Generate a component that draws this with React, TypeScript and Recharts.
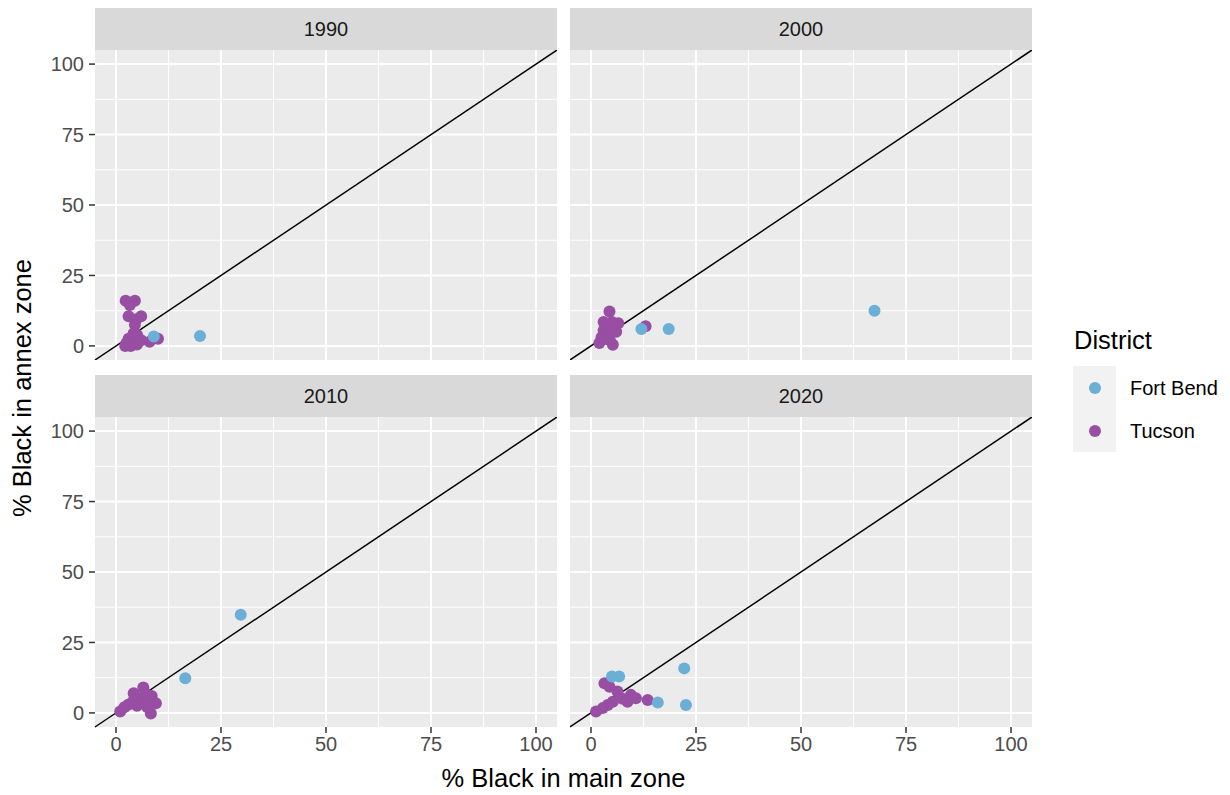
import {
  CartesianGrid,
  ReferenceLine,
  Scatter,
  ScatterChart,
  XAxis,
  YAxis,
} from "recharts";

const FONT = '"Liberation Sans", Arial, sans-serif';

const years = ["1990", "2000", "2010", "2020"];
const districts = ["Fort Bend", "Tucson"];
const colors: Record<string, string> = { "Fort Bend": "#6BAED6", Tucson: "#984EA3" };
const majorTicks = [0, 25, 50, 75, 100];
const minorTicks = [12.5, 37.5, 62.5, 87.5];

const tucson1990 = [
  { x: 2.3, y: 16 }, { x: 4.5, y: 16 }, { x: 3.3, y: 14.5 }, { x: 3, y: 10.5 },
  { x: 6, y: 10.5 }, { x: 4.8, y: 9.5 }, { x: 4.5, y: 7.5 }, { x: 4.2, y: 4.5 },
  { x: 5, y: 4 }, { x: 3, y: 2.5 }, { x: 2.5, y: 1 }, { x: 5, y: 0.5 },
  { x: 2.2, y: 0 }, { x: 3.5, y: 0 }, { x: 8, y: 1.5 }, { x: 10, y: 2.5 },
  { x: 6, y: 2 },
];
const fortBend1990 = [{ x: 9, y: 3.3 }, { x: 20, y: 3.5 }];

const tucson2000 = [
  { x: 4.4, y: 12.2 }, { x: 3, y: 8.5 }, { x: 5, y: 8.5 }, { x: 6.5, y: 8 },
  { x: 3.5, y: 7 }, { x: 5.5, y: 6.5 }, { x: 3, y: 5.5 }, { x: 6, y: 5 },
  { x: 4, y: 4.5 }, { x: 2.5, y: 3 }, { x: 3.5, y: 2.5 }, { x: 2, y: 1 },
  { x: 5.2, y: 0.4 }, { x: 4.5, y: 2 }, { x: 13, y: 7 },
];
const fortBend2000 = [{ x: 12, y: 6 }, { x: 18.5, y: 6 }, { x: 67.5, y: 12.5 }];

const tucson2010 = [
  { x: 1, y: 0.5 }, { x: 2, y: 2 }, { x: 3, y: 3 }, { x: 4, y: 4 },
  { x: 4.2, y: 7 }, { x: 5.5, y: 5 }, { x: 6.5, y: 9 }, { x: 7, y: 7 },
  { x: 6, y: 3.5 }, { x: 7.5, y: 4.5 }, { x: 8.5, y: 6 }, { x: 9.5, y: 3.4 },
  { x: 8.3, y: -0.2 }, { x: 7.5, y: 2 }, { x: 5, y: 2.5 },
];
const fortBend2010 = [{ x: 16.5, y: 12.3 }, { x: 29.7, y: 34.8 }];

const tucson2020 = [
  { x: 3.2, y: 10.5 }, { x: 4.4, y: 9.3 }, { x: 6.3, y: 7.6 }, { x: 9.5, y: 6.4 },
  { x: 10.7, y: 5.2 }, { x: 8.7, y: 4 }, { x: 13.5, y: 4.6 }, { x: 5.2, y: 4 },
  { x: 4, y: 2.8 }, { x: 2.8, y: 1.7 }, { x: 1.2, y: 0.5 }, { x: 7.5, y: 5 },
];
const fortBend2020 = [
  { x: 5, y: 12.9 }, { x: 6.7, y: 12.9 }, { x: 22.2, y: 15.8 },
  { x: 22.6, y: 2.8 }, { x: 15.9, y: 3.7 },
];

const dataByYear: Record<string, Record<string, { x: number; y: number }[]>> = {
  "1990": { Tucson: tucson1990, "Fort Bend": fortBend1990 },
  "2000": { Tucson: tucson2000, "Fort Bend": fortBend2000 },
  "2010": { Tucson: tucson2010, "Fort Bend": fortBend2010 },
  "2020": { Tucson: tucson2020, "Fort Bend": fortBend2020 },
};

// panel boxes (plot area) in page pixels
const colLeft = [95, 570];
const rowTop = [50, 417];
const PW = 462;
const PH = 310;
const STRIP = 42;
const YW = 60;
const XH = 50;

const dot = (color: string) => (props: any) =>
  <circle cx={props.cx} cy={props.cy} r={6} fill={color} />;

function Panel({ year, col, row }: { year: string; col: number; row: number }) {
  const showY = col === 0;
  const showX = row === 1;
  const w = PW + (showY ? YW : 0);
  const h = PH + (showX ? XH : 0);
  const left = colLeft[col] - (showY ? YW : 0);
  const top = rowTop[row];
  const tickStyle = { fill: "#4D4D4D", fontSize: 20, fontFamily: FONT };
  return (
    <>
      <div
        style={{
          position: "absolute",
          left: colLeft[col],
          top: top - STRIP,
          width: PW,
          height: STRIP,
          background: "#D9D9D9",
          color: "#1A1A1A",
          fontFamily: FONT,
          fontSize: 20,
          display: "flex",
          alignItems: "center",
          justifyContent: "center",
        }}
      >
        {year}
      </div>
      <div style={{ position: "absolute", left, top }}>
        <ScatterChart width={w} height={h} margin={{ top: 0, right: 0, bottom: 0, left: 0 }}>
          <CartesianGrid
            fill="#EBEBEB"
            stroke="#FFFFFF"
            strokeWidth={1}
            verticalValues={minorTicks}
            horizontalValues={minorTicks}
          />
          <CartesianGrid
            stroke="#FFFFFF"
            strokeWidth={2}
            verticalValues={majorTicks}
            horizontalValues={majorTicks}
          />
          <XAxis
            type="number"
            dataKey="x"
            domain={[-5, 105]}
            ticks={majorTicks}
            allowDataOverflow
            hide={!showX}
            height={XH}
            axisLine={false}
            tickLine={{ stroke: "#333333", strokeWidth: 1.5 }}
            tickSize={6}
            tickMargin={4}
            tick={tickStyle}
          />
          <YAxis
            type="number"
            dataKey="y"
            domain={[-5, 105]}
            ticks={majorTicks}
            allowDataOverflow
            hide={!showY}
            width={YW}
            axisLine={false}
            tickLine={{ stroke: "#333333", strokeWidth: 1.5 }}
            tickSize={6}
            tickMargin={5}
            tick={tickStyle}
          />
          {["Tucson", "Fort Bend"].map((d) => (
            <Scatter
              key={d}
              name={d}
              data={dataByYear[year][d]}
              fill={colors[d]}
              shape={dot(colors[d])}
              isAnimationActive={false}
            />
          ))}
          <ReferenceLine
            segment={[{ x: -5, y: -5 }, { x: 105, y: 105 }]}
            stroke="#000000"
            strokeWidth={1.5}
            ifOverflow="visible"
          />
        </ScatterChart>
      </div>
    </>
  );
}

export default function App() {
  return (
    <div
      style={{
        position: "absolute",
        left: 0,
        top: 0,
        width: 1230,
        height: 795,
        background: "#FFFFFF",
        fontFamily: FONT,
      }}
    >
      {years.map((y, i) => (
        <Panel key={y} year={y} col={i % 2} row={Math.floor(i / 2)} />
      ))}
      <div
        style={{
          position: "absolute",
          left: colLeft[0],
          width: colLeft[1] + PW - colLeft[0],
          top: 764,
          textAlign: "center",
          fontSize: 25.5,
          color: "#000",
        }}
      >
        % Black in main zone
      </div>
      <div
        style={{
          position: "absolute",
          left: 22,
          top: 388,
          transform: "translate(-50%, -50%) rotate(-90deg)",
          whiteSpace: "nowrap",
          fontSize: 25.5,
          color: "#000",
        }}
      >
        % Black in annex zone
      </div>
      <div style={{ position: "absolute", left: 1074, top: 326, fontSize: 25.5, color: "#000" }}>
        District
      </div>
      <div
        style={{
          position: "absolute",
          left: 1073,
          top: 366,
          width: 43,
          height: 86,
          background: "#F2F2F2",
        }}
      />
      {districts.map((d, i) => (
        <div key={d}>
          <div
            style={{
              position: "absolute",
              left: 1089,
              top: 382 + i * 43,
              width: 12,
              height: 12,
              borderRadius: 6,
              background: colors[d],
            }}
          />
          <div
            style={{
              position: "absolute",
              left: 1130,
              top: 376 + i * 43,
              fontSize: 20,
              lineHeight: "24px",
              color: "#000",
            }}
          >
            {d}
          </div>
        </div>
      ))}
    </div>
  );
}
